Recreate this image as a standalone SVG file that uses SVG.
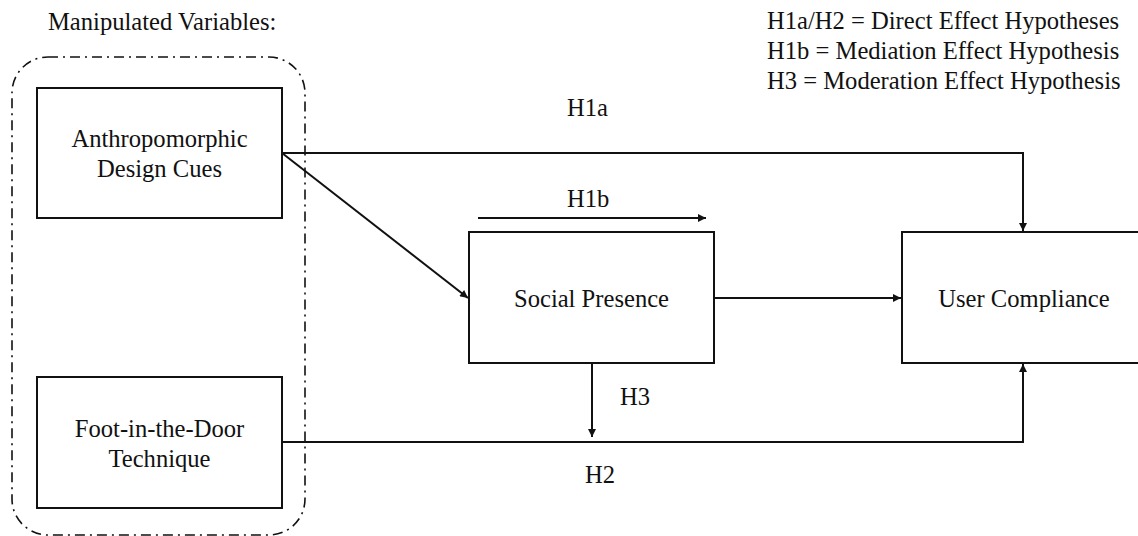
<svg xmlns="http://www.w3.org/2000/svg" width="1138" height="536" viewBox="0 0 1138 536" font-family="Liberation Serif, Times New Roman, serif" font-size="24.6">
<style>
text{fill:#111}
.box{fill:#fff;stroke:#111;stroke-width:2}
.c{fill:none;stroke:#111;stroke-width:2}
.mid{text-anchor:middle}
</style>
<defs>
<marker id="ah" viewBox="0 0 10 10" refX="10" refY="5" markerWidth="10" markerHeight="8" markerUnits="userSpaceOnUse" orient="auto">
<path d="M0,0 L10,5 L0,10 z" fill="#111"/>
</marker>
</defs>
<rect width="1138" height="536" fill="#fff"/>
<g id="legend">
<text x="48" y="30">Manipulated Variables:</text>
<text x="767" y="29">H1a/H2 = Direct Effect Hypotheses</text>
<text x="767" y="59">H1b = Mediation Effect Hypothesis</text>
<text x="767" y="89">H3 = Moderation Effect Hypothesis</text>
</g>
<g id="group-manipulated">
<rect x="12" y="57" width="293" height="478" rx="36" ry="36" fill="none" stroke="#111" stroke-width="1.6" stroke-dasharray="10 5 2 5"/>
</g>
<g id="connectors">
<polyline class="c" points="282,153 1023,153 1023,231" marker-end="url(#ah)"/>
<line class="c" x1="282" y1="153" x2="468" y2="298" marker-end="url(#ah)"/>
<line class="c" x1="714" y1="298" x2="901" y2="298" marker-end="url(#ah)"/>
<line class="c" x1="478" y1="218" x2="706" y2="218" marker-end="url(#ah)"/>
<line class="c" x1="592" y1="363" x2="592" y2="437" marker-end="url(#ah)"/>
<polyline class="c" points="282,442 1023,442 1023,364" marker-end="url(#ah)"/>
<text x="567" y="116">H1a</text>
<text x="567" y="207">H1b</text>
<text x="620" y="405">H3</text>
<text x="585" y="483">H2</text>
</g>
<g id="node-adc">
<rect class="box" x="37" y="88" width="245" height="130"/>
<text class="mid" x="159.5" y="147">Anthropomorphic</text>
<text class="mid" x="159.5" y="177">Design Cues</text>
</g>
<g id="node-fitd">
<rect class="box" x="37" y="377" width="245" height="131"/>
<text class="mid" x="159.5" y="437">Foot-in-the-Door</text>
<text class="mid" x="159.5" y="467">Technique</text>
</g>
<g id="node-sp">
<rect class="box" x="469" y="232" width="245" height="131"/>
<text class="mid" x="591.5" y="307">Social Presence</text>
</g>
<g id="node-uc">
<rect class="box" x="902" y="232" width="250" height="131"/>
<text class="mid" x="1024" y="307">User Compliance</text>
</g>
</svg>
